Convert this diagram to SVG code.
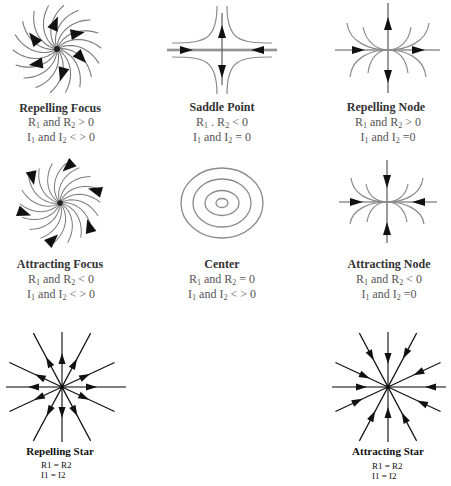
<svg xmlns="http://www.w3.org/2000/svg" xmlns:xlink="http://www.w3.org/1999/xlink" width="451" height="486" viewBox="0 0 451 486">
<style>
.arm{fill:none;stroke:#7a7a7a;stroke-width:1.1;stroke-linecap:round;stroke-linejoin:round}
.ax{stroke:#5a5a5a;stroke-width:1.2;fill:none}
.cv{fill:none;stroke:#8a8a8a;stroke-width:1.2}
.ring{fill:none;stroke:#8a8a8a;stroke-width:1.3}
.st{stroke:#111;stroke-width:1.2}
.sth{stroke:#555;stroke-width:1.6}
.hd{fill:#111}
.ttl{font-family:"Liberation Serif",serif;font-weight:bold;font-size:12px;fill:#333;text-anchor:middle}
.ln{font-family:"Liberation Serif",serif;font-size:12px;fill:#555;text-anchor:middle}
.sttl{font-family:"Liberation Serif",serif;font-weight:bold;font-size:11px;fill:#111;text-anchor:middle}
.sln{font-family:"Liberation Serif",serif;font-size:9px;fill:#111}
.sub{font-size:8px}
</style>
<defs>
<polyline id="arm" class="arm" points="0,0 0.31,-4 1.23,-7.9 2.76,-11.68 4.86,-15.25 7.54,-18.52 10.73,-21.46 14.42,-24 18.53,-26.08 23.04,-27.65 27.92,-28.64 33.04,-29.04"/>
<g id="spiral">
<use href="#arm"/><use href="#arm" transform="rotate(20)"/><use href="#arm" transform="rotate(40)"/><use href="#arm" transform="rotate(60)"/><use href="#arm" transform="rotate(80)"/><use href="#arm" transform="rotate(100)"/><use href="#arm" transform="rotate(120)"/><use href="#arm" transform="rotate(140)"/><use href="#arm" transform="rotate(160)"/><use href="#arm" transform="rotate(180)"/><use href="#arm" transform="rotate(200)"/><use href="#arm" transform="rotate(220)"/><use href="#arm" transform="rotate(240)"/><use href="#arm" transform="rotate(260)"/><use href="#arm" transform="rotate(280)"/><use href="#arm" transform="rotate(300)"/><use href="#arm" transform="rotate(320)"/><use href="#arm" transform="rotate(340)"/>
<circle r="3" fill="#222"/>
</g>
<polygon id="wedge" class="hd" points="7,0 -7,-5.5 -7,5.5"/>
<polygon id="ar" class="hd" points="0,0 -13,-4 -13,4"/>
<polygon id="ah" class="hd" points="0,0 -11,-3.5 -11,3.5"/>
</defs>

<g id="repelling-focus">
<g transform="translate(57,49)">
<use href="#spiral"/>
<use href="#wedge" transform="rotate(-94) translate(26,0) rotate(27)"/>
<use href="#wedge" transform="rotate(-37) translate(26,0) rotate(27)"/>
<use href="#wedge" transform="rotate(20) translate(26,0) rotate(27)"/>
<use href="#wedge" transform="rotate(79) translate(26,0) rotate(27)"/>
<use href="#wedge" transform="rotate(145) translate(26,0) rotate(27)"/>
<use href="#wedge" transform="rotate(205) translate(26,0) rotate(27)"/>
</g>
<text class="ttl" x="60" y="112">Repelling Focus</text>
<text class="ln" x="61" y="126">R<tspan class="sub" dy="2">1</tspan><tspan dy="-2"> and R</tspan><tspan class="sub" dy="2">2</tspan><tspan dy="-2"> &gt; 0</tspan></text>
<text class="ln" x="61" y="141">I<tspan class="sub" dy="2">1</tspan><tspan dy="-2"> and I</tspan><tspan class="sub" dy="2">2</tspan><tspan dy="-2"> &lt; &gt; 0</tspan></text>
</g>

<g id="saddle-point">
<line x1="167" y1="50" x2="277" y2="50" stroke="#cfcfcf" stroke-width="3.5"/>
<line class="ax" x1="167" y1="50" x2="277" y2="50"/>
<line class="ax" x1="222" y1="13" x2="222" y2="85"/>
<path class="cv" d="M172,43 C205,43 217,40 217,6"/>
<path class="cv" d="M272,43 C239,43 227,40 227,6"/>
<path class="cv" d="M172,57 C205,57 217,60 217,94"/>
<path class="cv" d="M272,57 C239,57 227,60 227,94"/>
<use href="#ar" transform="translate(193,50)"/>
<use href="#ar" transform="translate(251,50) rotate(180)"/>
<use href="#ar" transform="translate(222,25) rotate(-90)"/>
<use href="#ar" transform="translate(222,78) rotate(90)"/>
<text class="ttl" x="222" y="111">Saddle Point</text>
<text class="ln" x="222" y="126">R<tspan class="sub" dy="2">1</tspan><tspan dy="-2"> . R</tspan><tspan class="sub" dy="2">2</tspan><tspan dy="-2"> &lt; 0</tspan></text>
<text class="ln" x="222" y="141">I<tspan class="sub" dy="2">1</tspan><tspan dy="-2"> and I</tspan><tspan class="sub" dy="2">2</tspan><tspan dy="-2"> = 0</tspan></text>
</g>

<g id="repelling-node">
<line class="ax" x1="335" y1="50" x2="440" y2="50"/>
<line class="ax" x1="388" y1="3" x2="388" y2="93"/>
<path class="cv" d="M347,23 C349,42 370,50 388,50 C406,50 427,42 429,23"/>
<path class="cv" d="M363,27 C366,42 377,50 388,50 C399,50 409,42 411,27"/>
<path class="cv" d="M350,77 C352,58 370,50 388,50 C406,50 424,58 426,77"/>
<path class="cv" d="M368,73 C370,58 378,50 388,50 C398,50 406,58 408,73"/>
<use href="#ar" transform="translate(388,17) rotate(-90)"/>
<use href="#ar" transform="translate(388,83) rotate(90)"/>
<use href="#ar" transform="translate(365,50)"/>
<use href="#ar" transform="translate(425,50)"/>
<text class="ttl" x="386" y="111">Repelling Node</text>
<text class="ln" x="388" y="126">R<tspan class="sub" dy="2">1</tspan><tspan dy="-2"> and R</tspan><tspan class="sub" dy="2">2</tspan><tspan dy="-2"> &gt; 0</tspan></text>
<text class="ln" x="388" y="141">I<tspan class="sub" dy="2">1</tspan><tspan dy="-2"> and I</tspan><tspan class="sub" dy="2">2</tspan><tspan dy="-2"> =0</tspan></text>
</g>

<g id="attracting-focus">
<g transform="translate(60,203)">
<use href="#spiral" transform="scale(0.91)"/>
<use href="#wedge" transform="rotate(-78) translate(37,0) rotate(216)"/>
<use href="#wedge" transform="rotate(-20) translate(37,0) rotate(216)"/>
<use href="#wedge" transform="rotate(38) translate(37,0) rotate(216)"/>
<use href="#wedge" transform="rotate(101) translate(37,0) rotate(216)"/>
<use href="#wedge" transform="rotate(164) translate(37,0) rotate(216)"/>
<use href="#wedge" transform="rotate(222) translate(37,0) rotate(216)"/>
</g>
<text class="ttl" x="60" y="268">Attracting Focus</text>
<text class="ln" x="61" y="283">R<tspan class="sub" dy="2">1</tspan><tspan dy="-2"> and R</tspan><tspan class="sub" dy="2">2</tspan><tspan dy="-2"> &lt; 0</tspan></text>
<text class="ln" x="61" y="298">I<tspan class="sub" dy="2">1</tspan><tspan dy="-2"> and I</tspan><tspan class="sub" dy="2">2</tspan><tspan dy="-2"> &lt; &gt; 0</tspan></text>
</g>

<g id="center">
<ellipse class="ring" cx="222" cy="203" rx="41" ry="35"/>
<ellipse class="ring" cx="222" cy="203" rx="29" ry="24"/>
<ellipse class="ring" cx="222" cy="203" rx="17" ry="12.5"/>
<ellipse class="ring" cx="222" cy="203" rx="6" ry="4.5"/>
<text class="ttl" x="222" y="268">Center</text>
<text class="ln" x="222" y="283">R<tspan class="sub" dy="2">1</tspan><tspan dy="-2"> and R</tspan><tspan class="sub" dy="2">2</tspan><tspan dy="-2"> = 0</tspan></text>
<text class="ln" x="222" y="298">I<tspan class="sub" dy="2">1</tspan><tspan dy="-2"> and I</tspan><tspan class="sub" dy="2">2</tspan><tspan dy="-2"> &lt; &gt; 0</tspan></text>
</g>

<g id="attracting-node">
<line class="ax" x1="339" y1="202" x2="437" y2="202"/>
<line class="ax" x1="387" y1="160" x2="387" y2="243"/>
<path class="cv" d="M351,178 C353,195 370,202 387,202 C404,202 421,195 423,178"/>
<path class="cv" d="M366,184 C368,196 377,202 387,202 C397,202 406,196 408,184"/>
<path class="cv" d="M350,224 C352,209 370,202 387,202 C404,202 422,209 424,224"/>
<path class="cv" d="M367,222 C369,209 377,202 387,202 C397,202 405,209 407,222"/>
<use href="#ar" transform="translate(387,188) rotate(90)"/>
<use href="#ar" transform="translate(387,222) rotate(-90)"/>
<use href="#ar" transform="translate(363,202)"/>
<use href="#ar" transform="translate(412,202) rotate(180)"/>
<text class="ttl" x="389" y="268">Attracting Node</text>
<text class="ln" x="389" y="283">R<tspan class="sub" dy="2">1</tspan><tspan dy="-2"> and R</tspan><tspan class="sub" dy="2">2</tspan><tspan dy="-2"> &lt; 0</tspan></text>
<text class="ln" x="389" y="298">I<tspan class="sub" dy="2">1</tspan><tspan dy="-2"> and I</tspan><tspan class="sub" dy="2">2</tspan><tspan dy="-2"> =0</tspan></text>
</g>

<g id="repelling-star">
<g transform="translate(62,387)">
<line class="sth" x1="-56" y1="0" x2="64" y2="0"/>
<line class="sth" x1="0" y1="-55" x2="0" y2="55"/>
<line class="st" x1="-58" y1="0" x2="58" y2="0" transform="rotate(25)"/>
<line class="st" x1="-58" y1="0" x2="58" y2="0" transform="rotate(-25)"/>
<line class="st" x1="-61" y1="0" x2="61" y2="0" transform="rotate(62)"/>
<line class="st" x1="-61" y1="0" x2="61" y2="0" transform="rotate(-62)"/>
<circle r="2.2" fill="#111"/>
<use href="#ah" transform="rotate(0) translate(35,0)"/>
<use href="#ah" transform="rotate(25) translate(30,0)"/>
<use href="#ah" transform="rotate(62) translate(33,0)"/>
<use href="#ah" transform="rotate(90) translate(31,0)"/>
<use href="#ah" transform="rotate(118) translate(33,0)"/>
<use href="#ah" transform="rotate(155) translate(31,0)"/>
<use href="#ah" transform="rotate(180) translate(34,0)"/>
<use href="#ah" transform="rotate(205) translate(30,0)"/>
<use href="#ah" transform="rotate(242) translate(34,0)"/>
<use href="#ah" transform="rotate(270) translate(34,0)"/>
<use href="#ah" transform="rotate(298) translate(32,0)"/>
<use href="#ah" transform="rotate(335) translate(31,0)"/>
</g>
<text class="sttl" x="60" y="455">Repelling Star</text>
<text class="sln" x="41" y="468">R1 = R2</text>
<text class="sln" x="41" y="478">I1 = I2</text>
</g>

<g id="attracting-star">
<g transform="translate(388,387)">
<line class="sth" x1="-56" y1="0" x2="58" y2="0"/>
<line class="sth" x1="0" y1="-55" x2="0" y2="55"/>
<line class="st" x1="-58" y1="0" x2="58" y2="0" transform="rotate(25)"/>
<line class="st" x1="-58" y1="0" x2="58" y2="0" transform="rotate(-25)"/>
<line class="st" x1="-61" y1="0" x2="61" y2="0" transform="rotate(62)"/>
<line class="st" x1="-61" y1="0" x2="61" y2="0" transform="rotate(-62)"/>
<circle r="2.2" fill="#111"/>
<use href="#ah" transform="rotate(0) translate(37,0) rotate(180)"/>
<use href="#ah" transform="rotate(25) translate(32,0) rotate(180)"/>
<use href="#ah" transform="rotate(62) translate(29,0) rotate(180)"/>
<use href="#ah" transform="rotate(90) translate(20,0) rotate(180)"/>
<use href="#ah" transform="rotate(118) translate(27,0) rotate(180)"/>
<use href="#ah" transform="rotate(155) translate(28,0) rotate(180)"/>
<use href="#ah" transform="rotate(180) translate(21,0) rotate(180)"/>
<use href="#ah" transform="rotate(205) translate(20,0) rotate(180)"/>
<use href="#ah" transform="rotate(242) translate(30,0) rotate(180)"/>
<use href="#ah" transform="rotate(270) translate(23,0) rotate(180)"/>
<use href="#ah" transform="rotate(298) translate(32,0) rotate(180)"/>
<use href="#ah" transform="rotate(335) translate(28,0) rotate(180)"/>
</g>
<text class="sttl" x="388" y="455">Attracting Star</text>
<text class="sln" x="372" y="469">R1 = R2</text>
<text class="sln" x="372" y="479">I1 = I2</text>
</g>
</svg>
